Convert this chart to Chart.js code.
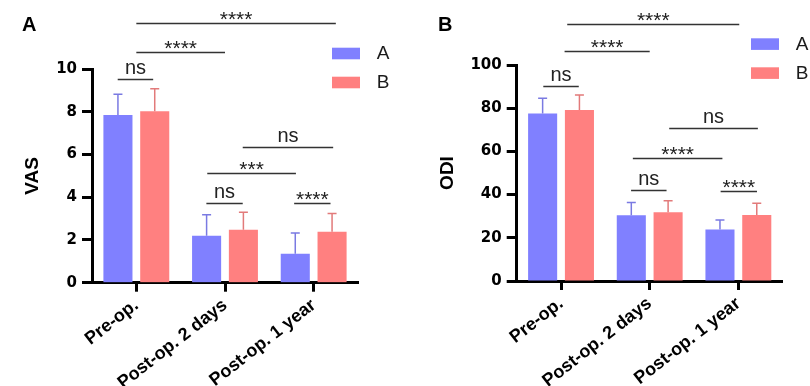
<!DOCTYPE html>
<html>
<head>
<meta charset="utf-8">
<script src="https://cdn.jsdelivr.net/npm/chart.js@4"></script>
<style>
  body { margin: 0; background: #fff; }
  #wrap { width: 810px; height: 386px; position: relative; }
  canvas { position: absolute; top: 0; }
</style>
</head>
<body>
<div id="wrap">
  <canvas id="chartVAS" width="405" height="386" style="left:0"></canvas>
  <canvas id="chartODI" width="405" height="386" style="left:405px"></canvas>
</div>
<script>
const categories = ["Pre-op.", "Post-op. 2 days", "Post-op. 1 year"];
const seriesNames = ["A", "B"];

// VAS (mean and SD)
const vasA = [7.85, 2.2, 1.35];
const vasB = [8.02, 2.48, 2.38];
const vasA_sd = [0.97, 0.98, 0.97];
const vasB_sd = [1.06, 0.82, 0.86];
const vasTicks = [0, 2, 4, 6, 8, 10];

// ODI (mean and SD)
const odiA = [77.6, 30.4, 23.9];
const odiB = [79.2, 31.8, 30.6];
const odiA_sd = [7.0, 5.9, 4.3];
const odiB_sd = [6.9, 5.4, 5.4];
const odiTicks = [0, 20, 40, 60, 80, 100];

// significance bars: [from index, to index, level, label]
const vasSig = [
    [0, 2.25, 12.17, "****"],
    [0, 1.0, 10.81, "****"],
    [-0.21, 0.19, 9.55, "ns"],
    [1.2, 2.22, 6.34, "ns"],
    [0.8, 1.8, 5.13, "***"],
    [0.79, 1.2, 3.73, "ns"],
    [1.78, 2.19, 3.73, "****"]
];
const odiSig = [
    [0.07, 2.01, 118.8, "****"],
    [0.04, 1.0, 106.5, "****"],
    [-0.2, 0.2, 90.3, "ns"],
    [1.22, 2.22, 70.8, "ns"],
    [0.81, 1.82, 56.8, "****"],
    [0.79, 1.19, 42.1, "ns"],
    [1.8, 2.21, 41.8, "****"]
];

const BLUE = "#8080ff";
const RED = "#ff8080";

/* error bars, brackets, legend, panel letter */
const extras = {
    id: "extras",
    afterDatasetsDraw(chart, args, o) {
        const ctx = chart.ctx;
        const ys = chart.scales.y;
        chart.data.datasets.forEach((ds, i) => {
            const meta = chart.getDatasetMeta(i);
            meta.data.forEach((bar, j) => {
                const top = ys.getPixelForValue(ds.data[j] + ds.sd[j]);
                ctx.save();
                ctx.strokeStyle = ds.errColor;
                ctx.lineWidth = 1.5;
                ctx.beginPath();
                ctx.moveTo(bar.x, bar.y);
                ctx.lineTo(bar.x, top);
                ctx.moveTo(bar.x - 4.5, top);
                ctx.lineTo(bar.x + 4.5, top);
                ctx.stroke();
                ctx.restore();
            });
        });
    },
    afterDraw(chart, args, o) {
        const ctx = chart.ctx;
        const xs = chart.scales.x, ys = chart.scales.y;
        const c0 = xs.getPixelForValue(0);
        const step = xs.getPixelForValue(1) - c0;
        ctx.save();
        o.sig.forEach(([a, b, lvl, label]) => {
            const y = Math.round(ys.getPixelForValue(lvl)) + 0.5;
            const x1 = c0 + a * step, x2 = c0 + b * step;
            ctx.strokeStyle = "#333";
            ctx.lineWidth = 1.5;
            ctx.beginPath();
            ctx.moveTo(x1, y);
            ctx.lineTo(x2, y);
            ctx.stroke();
            ctx.fillStyle = "#222";
            ctx.textAlign = "center";
            ctx.textBaseline = "alphabetic";
            if (label === "ns") {
                ctx.font = "20px 'Liberation Sans', Arial";
                ctx.fillText(label, (x1 + x2) / 2, y - 6);
            } else {
                ctx.font = "21px 'Liberation Sans', Arial";
                ctx.fillText(label, (x1 + x2) / 2, y + 2);
            }
        });

        // legend
        chart.data.datasets.forEach((ds, i) => {
            const top = o.legY + i * 29;
            ctx.fillStyle = ds.backgroundColor;
            ctx.fillRect(o.legX, top, 28, 11.6);
            ctx.fillStyle = "#1a1a1a";
            ctx.font = "19px 'Liberation Sans', Arial";
            ctx.textAlign = "left";
            ctx.textBaseline = "middle";
            ctx.fillText(ds.label, o.legX + 44.7, top + 6.5);
        });

        // panel letter
        ctx.fillStyle = "#000";
        ctx.font = "bold 20px 'Liberation Sans', Arial";
        ctx.textAlign = "left";
        ctx.textBaseline = "alphabetic";
        ctx.fillText(o.letter, o.letterX, 31);
        ctx.restore();
    }
};

function makeChart(id, cfg) {
    new Chart(document.getElementById(id), {
        type: "bar",
        data: {
            labels: categories,
            datasets: [
                { label: seriesNames[0], data: cfg.a, sd: cfg.aSd, backgroundColor: BLUE, errColor: "#7a7ae2" },
                { label: seriesNames[1], data: cfg.b, sd: cfg.bSd, backgroundColor: RED, errColor: "#e27a7a" }
            ]
        },
        options: {
            responsive: false,
            animation: false,
            barPercentage: 0.79,
            categoryPercentage: 0.83,
            layout: { padding: cfg.padding },
            plugins: {
                legend: { display: false },
                tooltip: { enabled: false },
                extras: { sig: cfg.sig, legX: cfg.legX, legY: cfg.legY, letter: cfg.letter, letterX: cfg.letterX }
            },
            scales: {
                x: {
                    afterFit: s => { s.height = cfg.xHeight; },
                    border: { color: "#000", width: 3 },
                    grid: { display: true, offset: false, drawOnChartArea: false, tickLength: 9, tickWidth: 3, tickColor: "#000" },
                    ticks: {
                        autoSkip: false, minRotation: 38, maxRotation: 38, padding: 3,
                        color: "#000", font: { family: "'Liberation Sans', Arial", weight: "bold", size: 18 }
                    }
                },
                y: {
                    min: 0, max: cfg.ticks[cfg.ticks.length - 1],
                    afterFit: s => { s.width = cfg.yWidth; },
                    afterBuildTicks: s => { s.ticks = cfg.ticks.map(v => ({ value: v })); },
                    border: { color: "#000", width: 3 },
                    grid: { drawOnChartArea: false, tickLength: 10, tickWidth: 3, tickColor: "#000" },
                    ticks: { padding: 5, color: "#000", font: { family: "'DejaVu Sans'", weight: "bold", size: 15 } },
                    title: {
                        display: true, text: cfg.title, color: "#000",
                        font: { family: "'Liberation Sans', Arial", weight: "bold", size: 19 }
                    }
                }
            }
        },
        plugins: [extras]
    });
}

makeChart("chartVAS", {
    a: vasA, b: vasB, aSd: vasA_sd, bSd: vasB_sd, ticks: vasTicks, sig: vasSig, title: "VAS",
    padding: { left: 17, right: 47, top: 69, bottom: 0 }, yWidth: 75, xHeight: 103.3,
    legX: 332, legY: 47.7, letter: "A", letterX: 22
});

makeChart("chartODI", {
    a: odiA, b: odiB, aSd: odiA_sd, bSd: odiB_sd, ticks: odiTicks, sig: odiSig, title: "ODI",
    padding: { left: 27, right: 27.3, top: 65, bottom: 0 }, yWidth: 84.7, xHeight: 105,
    legX: 346, legY: 38.3, letter: "B", letterX: 33
});
</script>
</body>
</html>
